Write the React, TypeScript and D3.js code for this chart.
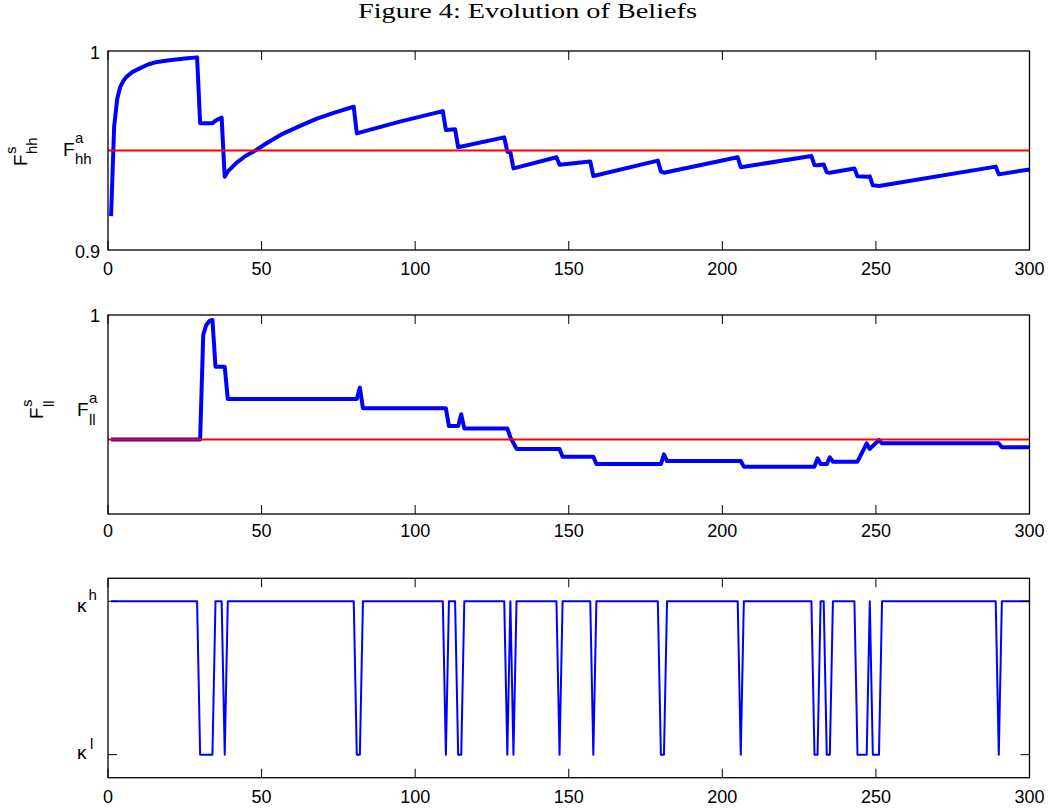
import React from 'react';
import * as d3 from 'd3';

// figure size and plot box horizontal extent
const W = 1053;
const H = 809;
const X0 = 108;
const X1 = 1029.5;

const xTicks = [0, 50, 100, 150, 200, 250, 300];

// agent beliefs (red reference lines)
const fhhAgent = 0.95;
const fllAgent = 0.9375;

// F^s_hh: [period, belief]
const fhhPoints: [number, number][] = [
  [1, 0.917], [2, 0.962], [3, 0.976], [4, 0.982], [5, 0.985], [6, 0.987], [8, 0.9895],
  [10, 0.991], [13, 0.9932], [16, 0.9945], [20, 0.9954], [25, 0.9962], [29, 0.9968],
  [30, 0.9637], [34, 0.9637], [35, 0.965], [37, 0.9665], [38, 0.9368],
  [39, 0.9395], [42, 0.944], [45, 0.9475], [48, 0.95], [52, 0.954], [57, 0.9585],
  [62, 0.962], [68, 0.966], [74, 0.9692], [80, 0.972],
  [81, 0.9586], [95, 0.9645], [109, 0.9698], [110, 0.9603], [113, 0.9607], [114, 0.9516],
  [129, 0.9566], [130, 0.9495], [131, 0.949], [132, 0.941], [146, 0.9466], [147, 0.9428],
  [157, 0.9445], [158, 0.9372], [179, 0.9449], [180, 0.9395], [181, 0.9388], [205, 0.9466],
  [206, 0.9416], [229, 0.9472], [230, 0.9427], [231, 0.9426], [233, 0.943], [234, 0.939],
  [235, 0.9388], [243, 0.941], [244, 0.937], [247, 0.9368], [248, 0.937], [249, 0.9325],
  [251, 0.9322], [289, 0.9419], [290, 0.938], [300, 0.9405],
];

// F^s_ll, middle panel
const fllPoints: [number, number][] = [
  [1, 0.9375], [30, 0.9375], [31, 0.99], [32, 0.995], [33, 0.997], [34, 0.9975],
  [35, 0.974], [38, 0.974], [39, 0.9578], [81, 0.9578], [82, 0.9635], [83, 0.9531],
  [110, 0.9531], [111, 0.9442], [114, 0.9442], [115, 0.9501], [116, 0.943], [130, 0.943],
  [131, 0.9385], [133, 0.9327], [147, 0.9327], [148, 0.9288], [158, 0.9288], [159, 0.9251],
  [180, 0.9251], [181, 0.93], [182, 0.9266], [206, 0.9266], [207, 0.9238], [230, 0.9238],
  [231, 0.928], [232, 0.9251], [234, 0.9251], [235, 0.9285], [236, 0.9263], [244, 0.9263],
  [247, 0.9355], [248, 0.9327], [251, 0.9372], [252, 0.9355], [290, 0.9355], [291, 0.9335],
  [300, 0.9335],
];

// kappa state, 1 = kappa^h, 0 = kappa^l (vertices only)
const kappaPoints: [number, number][] = [
  [1, 1], [29, 1], [30, 0], [34, 0], [35, 1], [37, 1], [38, 0], [39, 1], [80, 1], [81, 0],
  [82, 0], [83, 1], [109, 1], [110, 0], [111, 1], [113, 1], [114, 0], [115, 0], [116, 1],
  [129, 1], [130, 0], [131, 1], [132, 0], [133, 1], [146, 1], [147, 0], [148, 1], [157, 1],
  [158, 0], [159, 1], [179, 1], [180, 0], [181, 0], [182, 1], [205, 1], [206, 0], [207, 1],
  [229, 1], [230, 0], [231, 0], [232, 1], [233, 1], [234, 0], [235, 0], [236, 1], [243, 1],
  [244, 0], [247, 0], [248, 1], [249, 0], [251, 0], [252, 1], [289, 1], [290, 0], [291, 1],
  [300, 1],
];

const kappaTicks = [0, 1];
const kappaSup = ['l', 'h'];

const SANS = '"Liberation Sans", Arial, Helvetica, sans-serif';

const x = d3.scaleLinear().domain([0, 300]).range([X0, X1]);

type Box = { top: number; bottom: number };
const boxTop: Box = { top: 51, bottom: 250 };
const boxMid: Box = { top: 315, bottom: 514 };
const boxBot: Box = { top: 578.3, bottom: 777.7 };

const TICK = 9;

function Frame({ box, labelDy }: { box: Box; labelDy: number }) {
  return (
    <g>
      <rect x={X0} y={box.top} width={X1 - X0} height={box.bottom - box.top}
        fill="none" stroke="#000" strokeWidth={1.3} />
      {xTicks.map(t => (
        <g key={t}>
          <line x1={x(t)} x2={x(t)} y1={box.bottom} y2={box.bottom - TICK} stroke="#000" strokeWidth={1} />
          <line x1={x(t)} x2={x(t)} y1={box.top} y2={box.top + TICK} stroke="#000" strokeWidth={1} />
          <text x={x(t)} y={box.bottom + labelDy} textAnchor="middle" fontFamily={SANS} fontSize={18}>{t}</text>
        </g>
      ))}
    </g>
  );
}

export default function App() {
  const yTop = d3.scaleLinear().domain([0.9, 1]).range([boxTop.bottom, boxTop.top]);
  const yMid = d3.scaleLinear().domain([0.9, 1]).range([boxMid.bottom, boxMid.top]);
  const yBot = d3.scaleLinear().domain([-0.15, 1.15]).range([boxBot.bottom, boxBot.top]);

  const lineTop = d3.line<[number, number]>().x(d => x(d[0])).y(d => yTop(d[1]));
  const lineMid = d3.line<[number, number]>().x(d => x(d[0])).y(d => yMid(d[1]));
  const lineBot = d3.line<[number, number]>().x(d => x(d[0])).y(d => yBot(d[1]));

  return (
    <svg width={W} height={H} viewBox={`0 0 ${W} ${H}`}
      style={{ position: 'absolute', left: 0, top: 0, background: '#fff' }}>
      <text x={527.5} y={18} textAnchor="middle" fontFamily='"Liberation Serif", "Times New Roman", serif'
        fontSize={21} textLength={339} lengthAdjust="spacingAndGlyphs">Figure 4: Evolution of Beliefs</text>

      {/* top panel */}
      <path d={lineTop(fhhPoints) ?? ''} fill="none" stroke="#0000ff" strokeWidth={4} strokeLinejoin="round" />
      <line x1={X0} x2={X1} y1={yTop(fhhAgent)} y2={yTop(fhhAgent)} stroke="#ff0000" strokeWidth={2} />
      <Frame box={boxTop} labelDy={24.5} />
      {[0.9, 1].map(v => (
        <text key={v} x={100} y={yTop(v) + 7.5} textAnchor="end" fontFamily={SANS} fontSize={18}>{v === 1 ? '1' : '0.9'}</text>
      ))}
      <g fontFamily={SANS}>
        <text x={63} y={156} fontSize={19}>F</text>
        <text x={75} y={143} fontSize={15}>a</text>
        <text x={75} y={164} fontSize={15}>hh</text>
      </g>
      <g fontFamily={SANS} transform="translate(27,166) rotate(-90)">
        <text x={0} y={0} fontSize={19}>F</text>
        <text x={12} y={-11.5} fontSize={15}>s</text>
        <text x={12} y={10} fontSize={15}>hh</text>
      </g>

      {/* middle panel */}
      <path d={lineMid(fllPoints) ?? ''} fill="none" stroke="#0000ff" strokeWidth={4} strokeLinejoin="round" />
      <line x1={X0} x2={X1} y1={yMid(fllAgent)} y2={yMid(fllAgent)} stroke="#ff0000" strokeWidth={2} />
      <Frame box={boxMid} labelDy={23} />
      <text x={100} y={yMid(1) + 7} textAnchor="end" fontFamily={SANS} fontSize={18}>1</text>
      <g fontFamily={SANS}>
        <text x={77} y={416} fontSize={19}>F</text>
        <text x={89} y={403} fontSize={15}>a</text>
        <text x={89} y={425} fontSize={15}>ll</text>
      </g>
      <g fontFamily={SANS} transform="translate(43,419) rotate(-90)">
        <text x={0} y={0} fontSize={19}>F</text>
        <text x={12} y={-11.5} fontSize={15}>s</text>
        <text x={12} y={11} fontSize={15}>ll</text>
      </g>

      {/* bottom panel */}
      <path d={lineBot(kappaPoints) ?? ''} fill="none" stroke="#0000ff" strokeWidth={2} strokeLinejoin="round" />
      <Frame box={boxBot} labelDy={25} />
      {kappaTicks.map((k, i) => (
        <g key={k}>
          <line x1={X0} x2={X0 + TICK} y1={yBot(k)} y2={yBot(k)} stroke="#000" strokeWidth={1} />
          <line x1={X1} x2={X1 - TICK} y1={yBot(k)} y2={yBot(k)} stroke="#000" strokeWidth={1} />
          <text x={77} y={yBot(k) + (k === 1 ? 11 : 4.5)} fontFamily={SANS} fontSize={19}>κ</text>
          <text x={k === 1 ? 88.5 : 90} y={yBot(k) + (k === 1 ? -1 : -6)} fontFamily={SANS} fontSize={15}>{kappaSup[i]}</text>
        </g>
      ))}
    </svg>
  );
}
